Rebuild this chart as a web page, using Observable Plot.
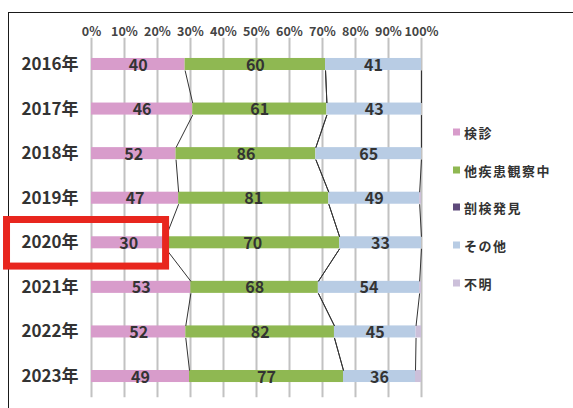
<!DOCTYPE html>
<html>
<head>
<meta charset="utf-8">
<script src="https://cdn.jsdelivr.net/npm/d3@7"></script>
<script src="https://cdn.jsdelivr.net/npm/@observablehq/plot@0.6"></script>
<style>
  html, body { margin: 0; padding: 0; background: #fff; }
  #wrap { position: relative; width: 573px; height: 408px; overflow: hidden; background: #fff;
          font-family: "Noto Sans CJK JP", "Noto Sans", sans-serif; }
  #frame { position: absolute; left: 8px; top: 12px; width: 600px; height: 420px;
           border-top: 1.5px solid #1a1a1a; border-left: 1.5px solid #1a1a1a; }
  #chart { position: absolute; left: 0; top: 0; }
  #legend { position: absolute; left: 453px; top: 0; }
  .item { position: absolute; left: 0; white-space: nowrap; display: flex; align-items: center;
          font-size: 13px; letter-spacing: 1.5px; color: #333; font-weight: 600; transform: translateY(-50%); }
  .sw { width: 7px; height: 7px; margin-right: 4px; }
</style>
</head>
<body>
<div id="wrap">
  <div id="frame"></div>
  <div id="chart"></div>
  <div id="legend"></div>
</div>
<script>
// ---- data ----
const years = ["2016年", "2017年", "2018年", "2019年", "2020年", "2021年", "2022年", "2023年"];
const seriesNames = ["検診", "他疾患観察中", "剖検発見", "その他", "不明"];
const kenshin   = [40, 46, 52, 47, 30, 53, 52, 49];
const tashikkan = [60, 61, 86, 81, 70, 68, 82, 77];
const boken     = [0, 0, 0, 0, 0, 0, 0, 0];
const sonota    = [41, 43, 65, 49, 33, 54, 45, 36];
const fumei     = [0, 0, 0, 1, 0, 1, 3, 3];
const tickValues = [0, 10, 20, 30, 40, 50, 60, 70, 80, 90, 100];
const highlightYear = "2020年";

const colors = ["#d89ccb", "#8fb852", "#5e4a7b", "#b8cce4", "#ccc0da"];
const labeled = ["検診", "他疾患観察中", "その他"];

// ---- build table ----
const seriesValues = [kenshin, tashikkan, boken, sonota, fumei];
const segments = [];
const boundaries = seriesNames.map(() => []);
years.forEach((y, i) => {
  const tot = d3.sum(seriesValues, v => v[i]);
  let cum = 0;
  seriesValues.forEach((v, k) => {
    const x1 = cum / tot;
    cum += v[i];
    const x2 = cum / tot;
    segments.push({i, year: y, series: seriesNames[k], value: v[i], x1, x2});
    boundaries[k].push(x2);
  });
});
const half = 0.135;
const links = [];
for (let k = 0; k < seriesNames.length - 1; k++) {
  for (let i = 0; i < years.length - 1; i++) {
    links.push({x1: boundaries[k][i], y1: i + half, x2: boundaries[k][i + 1], y2: i + 1 - half});
  }
}
const labels = segments.filter(d => labeled.includes(d.series) && d.value > 0);
const hi = years.indexOf(highlightYear);

const chart = Plot.plot({
  width: 573,
  height: 408,
  marginLeft: 91,
  marginRight: 152,
  marginTop: 41.7,
  marginBottom: 9.7,
  style: {background: "none", fontFamily: "'Noto Sans CJK JP', 'Noto Sans', sans-serif"},
  x: {domain: [0, 1], axis: null},
  y: {domain: [-0.5, years.length - 0.5], reverse: true, axis: null},
  color: {domain: seriesNames, range: colors},
  marks: [
    Plot.ruleX(tickValues, {x: d => d / 100, stroke: "#c2c2c2", strokeWidth: 2, insetTop: -4, insetBottom: 1}),
    Plot.rect(segments, {x1: "x1", x2: "x2", y1: d => d.i - half, y2: d => d.i + half, fill: "series"}),
    Plot.link(links, {x1: "x1", y1: "y1", x2: "x2", y2: "y2", stroke: "#333", strokeWidth: 1}),
    Plot.text(labels, {x: d => (d.x1 + d.x2) / 2, y: "i", text: d => String(d.value), dy: 1,
      fontSize: 16, fontWeight: 600, fill: "#333"}),
    Plot.axisX(tickValues.map(d => d / 100), {anchor: "top", tickSize: 0, tickPadding: 6,
      tickFormat: d => Math.round(d * 100) + "%", fontSize: 12.5, fontWeight: "bold", fill: "#444",
      style: {letterSpacing: "0.6px"}}),
    Plot.axisY(d3.range(years.length), {anchor: "left", tickSize: 0, tickPadding: 13,
      tickFormat: i => years[i], fontSize: 17, fontWeight: "bold", fill: "#333"}),
    Plot.rect([hi], {x1: -0.256, x2: 0.226, y1: d => d - 0.5, y2: d => d + 0.5,
      insetTop: -0.5, insetBottom: -1.5, fill: "none", stroke: "#e8261e", strokeWidth: 7})
  ]
});
document.getElementById("chart").appendChild(chart);

// ---- legend ----
const legend = document.getElementById("legend");
seriesNames.forEach((s, k) => {
  const it = document.createElement("div");
  it.className = "item";
  it.style.top = (132 + 37.7 * k) + "px";
  const sw = document.createElement("span");
  sw.className = "sw";
  sw.style.background = colors[k];
  it.appendChild(sw);
  it.appendChild(document.createTextNode(s));
  legend.appendChild(it);
});
</script>
</body>
</html>
